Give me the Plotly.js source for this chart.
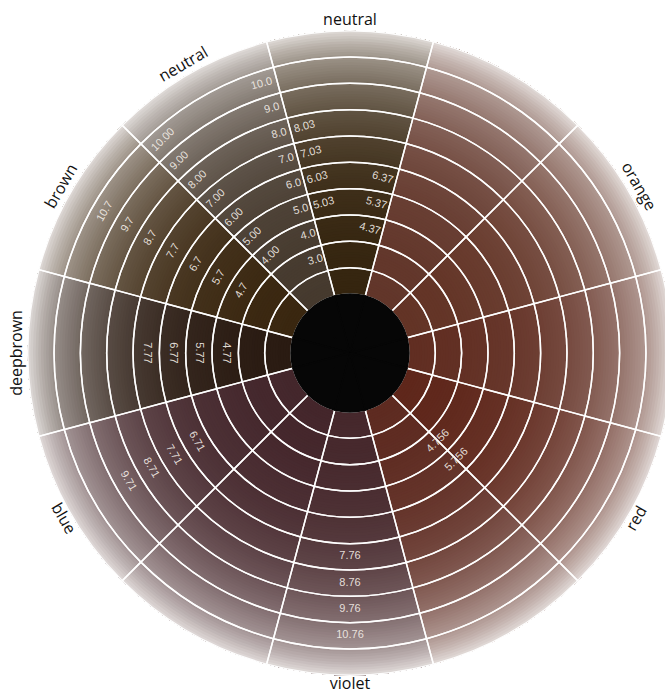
<!DOCTYPE html>
<html><head><meta charset="utf-8">
<script src="https://cdn.plot.ly/plotly-3.0.1.min.js"></script>
<style>
html,body{margin:0;padding:0;overflow:hidden;background:#fff;width:665px;height:695px}
#chart{width:700px;height:706px}
</style>
</head><body><div id="chart"></div>
<script>
// ---- data ----
const sectorAngles = [0, 30, 60, 90, 120, 150, 180, 210, 240, 270, 300, 330];
const categories   = ['', 'orange', '', 'neutral', 'neutral', 'brown', 'deepbrown', 'blue', '', 'violet', '', 'red'];
const sectorColors = ['#612e22', '#633426', '#62362a', '#35250f', '#463a2e', '#3a2710',
                      '#2a1b12', '#44272c', '#44262b', '#46282c', '#5e2b21', '#5f271b'];
const levels = [2, 3, 4, 5, 6, 7, 8, 9, 10, 11];

const neutralDotZeroText  = ['3.0', '4.0', '5.0', '6.0', '7.0', '8.0', '9.0', '10.0'];
const neutralDotZeroLevel = [3, 4, 5, 6, 7, 8, 9, 10];
const neutral03Text  = ['5.03', '6.03', '7.03', '8.03'];
const neutral03Level = [5, 6, 7, 8];
const gold37Text  = ['4.37', '5.37', '6.37'];
const gold37Level = [4, 5, 6];
const neutral00Text  = ['4.00', '5.00', '6.00', '7.00', '8.00', '9.00', '10.00'];
const neutral00Level = [4, 5, 6, 7, 8, 9, 10];
const brown7Text  = ['4.7', '5.7', '6.7', '7.7', '8.7', '9.7', '10.7'];
const brown7Level = [4, 5, 6, 7, 8, 9, 10];
const deep77Text  = ['4.77', '5.77', '6.77', '7.77'];
const deep77Level = [4, 5, 6, 7];
const blue71Text  = ['6.71', '7.71', '8.71', '9.71'];
const blue71Level = [6, 7, 8, 9];
const violet76Text  = ['7.76', '8.76', '9.76', '10.76'];
const violet76Level = [7, 8, 9, 10];
const red756Text  = ['4.756', '5.756'];
const red756Level = [4, 5];

// ---- style ----
const HOLE = 2.24;           // radius of black centre, in band units
const LIGHT = [236, 232, 230];
const fadeU = [0, 2, 4, 5, 6, 7, 8, 9, 9.5, 10];
const fadeV = [0, 0.01, 0.05, 0.09, 0.15, 0.24, 0.37, 0.56, 0.72, 0.93];
const STEPS = 10;
function fadeAt(u){
  for (let i = 1; i < fadeU.length; i++) {
    if (u <= fadeU[i]) { const f = (u - fadeU[i-1]) / (fadeU[i] - fadeU[i-1]); return fadeV[i-1] + f * (fadeV[i] - fadeV[i-1]); }
  }
  return fadeV[fadeV.length - 1];
}
function hexRgb(h){return [parseInt(h.slice(1,3),16),parseInt(h.slice(3,5),16),parseInt(h.slice(5,7),16)];}
function mix(h, t){const c=hexRgb(h);return 'rgb('+c.map((v,i)=>Math.round(v+(LIGHT[i]-v)*t)).join(',')+')';}

const OUTER = HOLE + levels.length;
const traces = [];
// cell fills: shading steps, each reaching to the outer rim, drawn inner to outer
levels.forEach((L, k) => {
  for (let s = 0; s < STEPS; s++) {
    const b = HOLE + (L - levels[0]) + s / STEPS;
    const cols = sectorColors.map(c => mix(c, fadeAt(k + (s + 0.5) / STEPS)));
    traces.push({
      type: 'barpolar', theta: sectorAngles,
      r: sectorAngles.map(() => OUTER - b),
      base: sectorAngles.map(() => b),
      width: sectorAngles.map(() => 30),
      marker: { color: cols, line: { width: 0 } },
      hoverinfo: 'skip', showlegend: false
    });
  }
});
// cell outlines
levels.forEach((L) => {
  traces.push({
    type: 'barpolar', theta: sectorAngles,
    r: sectorAngles.map(() => 1),
    base: sectorAngles.map(() => HOLE + (L - levels[0])),
    width: sectorAngles.map(() => 30),
    marker: { color: 'rgba(0,0,0,0)', line: { color: 'rgba(255,255,255,0.95)', width: 1.5 } },
    hoverinfo: 'skip', showlegend: false
  });
});
// black centre
traces.push({
  type: 'barpolar', theta: sectorAngles, r: sectorAngles.map(() => HOLE), base: sectorAngles.map(() => 0),
  width: sectorAngles.map(() => 30),
  marker: { color: '#060606', line: { color: '#060606', width: 1.5 } }, hoverinfo: 'skip', showlegend: false
});

const rotations = [];
function labelGroup(texts, lvls, theta, pos, rot){
  traces.push({
    type: 'scatterpolar', mode: 'text', text: texts,
    r: lvls.map(L => HOLE + (L - levels[0]) + 0.5),
    theta: lvls.map(() => theta),
    textposition: pos,
    textfont: { family: 'Liberation Sans, Arial, sans-serif', size: 11, color: 'rgba(242,236,230,0.92)' },
    hoverinfo: 'skip', showlegend: false
  });
  rotations.push(texts.map(() => rot));
}
labelGroup(neutralDotZeroText, neutralDotZeroLevel, 106, 'middle left', -15);
labelGroup(neutral03Text, neutral03Level, 104, 'middle right', -15);
labelGroup(gold37Text, gold37Level, 76, 'middle left', 15);
labelGroup(neutral00Text, neutral00Level, 134, 'middle right', -45);
labelGroup(brown7Text, brown7Level, 150, 'middle center', -60);
labelGroup(deep77Text, deep77Level, 180, 'middle center', 90);
labelGroup(blue71Text, blue71Level, 210, 'middle center', 60);
labelGroup(violet76Text, violet76Level, 270, 'middle center', 0);
labelGroup(red756Text, red756Level, 315, 'middle center', -45);

// category labels
const catIdx = categories.map((c, i) => i).filter(i => categories[i] !== '');
traces.push({
  type: 'scatterpolar', mode: 'text',
  text: catIdx.map(i => categories[i]),
  theta: catIdx.map(i => sectorAngles[i]),
  r: catIdx.map(() => OUTER + 0.38),
  textposition: 'middle center',
  textfont: { family: 'Open Sans, Noto Sans, sans-serif', size: 16, color: '#111' },
  hoverinfo: 'skip', showlegend: false
});
rotations.push(catIdx.map(i => { const a = sectorAngles[i]; return (a > 0 && a <= 180) ? 90 - a : 270 - a; }));

const layout = {
  width: 700, height: 706,
  margin: { l: 0, r: 0, t: 0, b: 0 },
  paper_bgcolor: '#ffffff',
  showlegend: false,
  polar: {
    domain: { x: [0, 1], y: [0, 1] },
    bgcolor: 'rgba(0,0,0,0)',
    barmode: 'overlay', bargap: 0, hole: 0,
    radialaxis: { visible: false, range: [0, 13.3] },
    angularaxis: { rotation: 0, direction: 'counterclockwise', showgrid: false, showline: false,
                   showticklabels: false, ticks: '' }
  }
};

const gd = document.getElementById('chart');
Plotly.newPlot(gd, traces, layout, { staticPlot: true, displayModeBar: false }).then(() => {
  const groups = gd.querySelectorAll('.scatterlayer .trace');
  groups.forEach((tg, i) => {
    const rots = rotations[i] || [];
    tg.querySelectorAll('.textpoint').forEach((g, j) => {
      const t = g.querySelector('text');
      if (!t) return;
      const x = +t.getAttribute('x'), y = +t.getAttribute('y');
      const tr = g.getAttribute('transform') || '';
      let dx = 0, dy = 0;
      const m = tr.match(/translate\(\s*([-\d.eE]+)[\s,]*([-\d.eE]+)?\s*\)/);
      if (m) { dx = +m[1]; dy = +(m[2] || 0); }
      g.removeAttribute('transform');
      t.setAttribute('transform', 'rotate(' + (rots[j] || 0) + ' ' + x + ' ' + y + ') translate(' + dx + ' ' + dy + ')');
    });
  });
});
</script>
</body></html>
